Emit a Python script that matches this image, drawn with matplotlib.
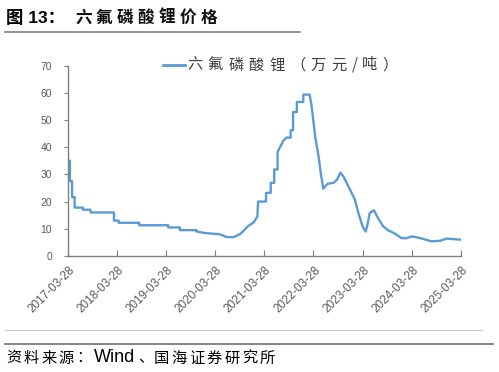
import matplotlib
matplotlib.use('Agg')
import matplotlib.pyplot as plt
import matplotlib.dates as mdates
import matplotlib.transforms as mtransforms
import pandas as pd

plt.rcParams['font.family'] = ['Noto Sans CJK SC', 'DejaVu Sans']

# 六氟磷酸锂价格 (万元/吨)
dates = ['2017-03-28', '2017-04-15', '2017-04-15', '2017-05-01', '2017-05-01',
         '2017-05-20', '2017-05-20', '2017-07-20', '2017-07-20', '2017-09-15',
         '2017-09-15', '2018-03-08', '2018-03-08', '2018-04-12', '2018-04-12',
         '2018-09-12', '2018-09-12', '2019-04-15', '2019-04-15', '2019-07-10',
         '2019-07-10', '2019-11-10', '2019-11-10', '2020-01-05', '2020-03-10',
         '2020-05-01', '2020-06-20', '2020-08-10', '2020-09-28', '2020-10-20',
         '2020-11-28', '2021-01-10', '2021-02-05', '2021-02-10', '2021-02-28',
         '2021-04-10', '2021-04-10', '2021-04-25', '2021-05-15', '2021-05-15',
         '2021-06-10', '2021-06-10', '2021-07-05', '2021-07-05', '2021-08-15',
         '2021-09-08', '2021-10-10', '2021-10-10', '2021-10-28', '2021-10-28',
         '2021-11-25', '2021-11-25', '2022-01-12', '2022-01-12', '2022-02-28',
         '2022-03-15', '2022-04-10', '2022-05-05', '2022-05-25', '2022-06-10',
         '2022-07-10', '2022-08-25', '2022-09-20', '2022-10-15', '2022-11-05',
         '2022-12-25', '2023-01-30', '2023-02-25', '2023-03-28', '2023-04-20',
         '2023-05-01', '2023-05-20', '2023-06-20', '2023-07-20', '2023-08-28',
         '2023-10-05', '2023-11-25', '2024-01-10', '2024-02-15', '2024-03-28',
         '2024-05-28', '2024-08-20', '2024-10-25', '2024-12-10', '2025-03-25']
values = [35.0, 35.0, 27.5, 27.5, 21.6,
          21.6, 17.8, 17.8, 17.0, 17.0,
          16.0, 16.0, 13.0, 13.0, 12.2,
          12.2, 11.3, 11.3, 10.5, 10.5,
          9.5, 9.5, 9.0, 8.5, 8.2,
          8.0, 7.0, 6.9, 8.0, 9.0,
          11.0, 12.4, 14.6, 20.0, 20.0,
          20.0, 23.2, 23.2, 23.2, 26.9,
          26.9, 31.8, 31.8, 38.2, 42.2,
          43.5, 43.5, 46.2, 46.2, 52.9,
          52.9, 56.6, 56.6, 59.3, 59.3,
          55.0, 44.0, 36.7, 29.3, 24.7,
          26.5, 26.9, 28.1, 30.6, 29.3,
          24.4, 20.7, 15.8, 10.9, 9.0,
          10.9, 15.8, 16.8, 14.0, 10.9,
          9.4, 8.2, 6.6, 6.5, 7.2,
          6.6, 5.4, 5.6, 6.4, 6.0]
tick_dates = ['2017-03-28', '2018-03-28', '2019-03-28', '2020-03-28', '2021-03-28',
              '2022-03-28', '2023-03-28', '2024-03-28', '2025-03-28']
series_name = '六氟磷酸锂（万元/吨）'
title_no = '图 13：'
title = '六氟磷酸锂价格'
source_a = '资料来源：'
source_b = 'Wind'
source_c = '、'
source_d = '国海证券研究所'

W, H = 499, 372
BLUE = '#5B9BD5'


def spaced(fig, x0, y, s, step, **kw):
    # the original uses wide letter spacing; place each character on its own
    xx = x0
    for ch in s:
        fig.text(xx / W, 1 - y / H, ch, va='center', ha='left', **kw)
        xx += step if ord(ch) > 255 else step * 0.5


x = pd.to_datetime(dates)
ticks = pd.to_datetime(tick_dates)

fig = plt.figure(figsize=(W / 100, H / 100), dpi=100)
ax = fig.add_axes([67.5 / W, 1 - 256 / H, (461 - 67.5) / W, (256 - 65.5) / H])

ax.plot(x, values, color=BLUE, lw=1.7)

ax.set_xlim(ticks[0], ticks[-1])
ax.set_ylim(0, 70)
ax.set_yticks(range(0, 71, 10))
ax.set_xticks(ticks)
ax.xaxis.set_major_formatter(mdates.DateFormatter('%Y-%m-%d'))

for s in ['top', 'right']:
    ax.spines[s].set_visible(False)
for s in ['left', 'bottom']:
    ax.spines[s].set_color('#7f7f7f')
    ax.spines[s].set_linewidth(1.0)
ax.tick_params(axis='y', direction='out', length=3, color='#7f7f7f',
               labelsize=7.5, labelcolor='#595959', pad=8)
ax.tick_params(axis='x', direction='in', length=4, color='#7f7f7f',
               labelsize=8.5, labelcolor='#595959', pad=9)
shift = mtransforms.ScaledTranslation(5 / 100, 0, fig.dpi_scale_trans)
for lab in ax.get_xticklabels():
    lab.set_rotation(45)
    lab.set_ha('right')
    lab.set_va('center')
    lab.set_rotation_mode('anchor')
    lab.set_family('Liberation Sans')
    lab.set_transform(lab.get_transform() + shift)
for lab in ax.get_yticklabels():
    lab.set_family('Liberation Sans')

# legend drawn by hand to keep the wide character spacing
fig.add_artist(plt.Line2D([163 / W, 185 / W], [1 - 65 / H] * 2, color=BLUE, lw=2.0))
spaced(fig, 187, 65, series_name, 20.6, fontsize=11, color='#404040')

# title and source
fig.text(6 / W, 1 - 18 / H, title_no, fontsize=12.5, fontweight='bold',
         family=['Liberation Sans', 'Noto Sans CJK SC'], va='center', ha='left')
spaced(fig, 75, 18, title, 20.9, fontsize=12, fontweight='bold', color='#111111')
fig.add_artist(plt.Line2D([5 / W, 300 / W], [1 - 32 / H] * 2, color='#808080', lw=1.2))
fig.add_artist(plt.Line2D([5 / W, 482 / W], [1 - 330 / H] * 2, color='#c8c8c8', lw=0.8))
fig.add_artist(plt.Line2D([5 / W, 493 / W], [1 - 344 / H] * 2, color='#707070', lw=1.2))
spaced(fig, 6, 358, source_a, 17.6, fontsize=11)
fig.text(94 / W, 1 - 358 / H, source_b, fontsize=13, family='Liberation Sans',
         va='center', ha='left')
fig.text(138 / W, 1 - 358 / H, source_c, fontsize=11, va='center', ha='left')
spaced(fig, 154, 358, source_d, 17.6, fontsize=11)

fig.savefig('out.png', dpi=100)
